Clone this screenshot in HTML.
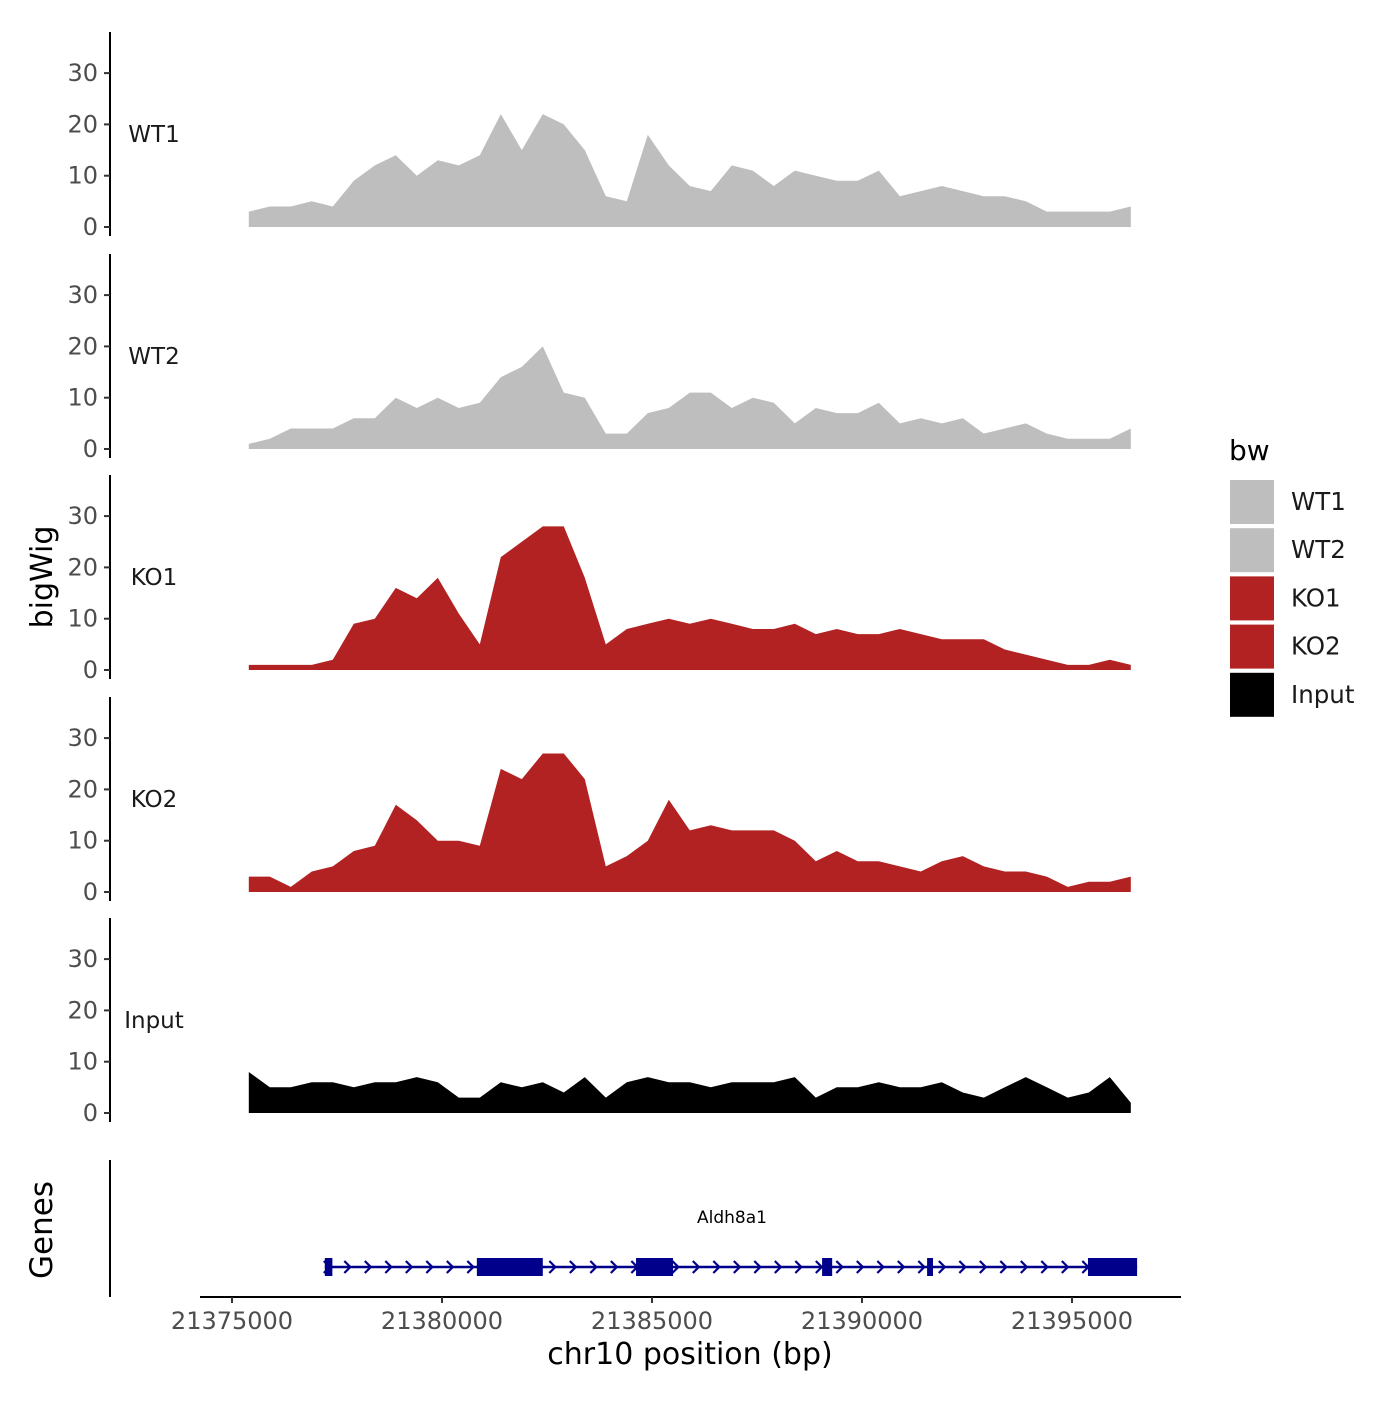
<!DOCTYPE html>
<html><head><meta charset="utf-8"><style>
body{margin:0;background:#fff}
svg{font-family:"DejaVu Sans","Liberation Sans",sans-serif}
</style></head><body>
<svg id="c" width="1400" height="1400" viewBox="0 0 1400 1400">
<rect width="1400" height="1400" fill="#fff"/>
<g id="tracks"></g>
<g id="genes"></g>
<g id="xaxis"></g>
<text x="52" y="577" font-size="30" text-anchor="middle" transform="rotate(-90 52 577)">bigWig</text>
<text x="52" y="1230" font-size="31" text-anchor="middle" transform="rotate(-90 52 1230)">Genes</text>
<text x="690" y="1364" font-size="30" text-anchor="middle">chr10 position (bp)</text>
<g id="legend"></g>
</svg>
<script>
const positions = [21375400,21375900,21376400,21376900,21377400,21377900,21378400,21378900,21379400,21379900,21380400,21380900,21381400,21381900,21382400,21382900,21383400,21383900,21384400,21384900,21385400,21385900,21386400,21386900,21387400,21387900,21388400,21388900,21389400,21389900,21390400,21390900,21391400,21391900,21392400,21392900,21393400,21393900,21394400,21394900,21395400,21395900,21396400];
const trackNames = ["WT1","WT2","KO1","KO2","Input"];
const trackColors = ["#bebebe","#bebebe","#b22222","#b22222","#000000"];
const wt1 = [3,4,4,5,4,9,12,14,10,13,12,14,22,15,22,20,15,6,5,18,12,8,7,12,11,8,11,10,9,9,11,6,7,8,7,6,6,5,3,3,3,3,4];
const wt2 = [1,2,4,4,4,6,6,10,8,10,8,9,14,16,20,11,10,3,3,7,8,11,11,8,10,9,5,8,7,7,9,5,6,5,6,3,4,5,3,2,2,2,4];
const ko1 = [1,1,1,1,2,9,10,16,14,18,11,5,22,25,28,28,18,5,8,9,10,9,10,9,8,8,9,7,8,7,7,8,7,6,6,6,4,3,2,1,1,2,1];
const ko2 = [3,3,1,4,5,8,9,17,14,10,10,9,24,22,27,27,22,5,7,10,18,12,13,12,12,12,10,6,8,6,6,5,4,6,7,5,4,4,3,1,2,2,3];
const inp = [8,5,5,6,6,5,6,6,7,6,3,3,6,5,6,4,7,3,6,7,6,6,5,6,6,6,7,3,5,5,6,5,5,6,4,3,5,7,5,3,4,7,2];
const yTicks = [0,10,20,30];
const xTicks = [21375000,21380000,21385000,21390000,21395000];
const exonStarts = [21377210,21380830,21384620,21389050,21391550,21395380];
const exonEnds   = [21377390,21382400,21385500,21389290,21391690,21396550];
const geneStart = 21377210, geneEnd = 21396550;

const NS="http://www.w3.org/2000/svg";
function el(t,a,p){const e=document.createElementNS(NS,t);for(const k in a)e.setAttribute(k,a[k]);p.appendChild(e);return e;}
const xs = bp => 232 + (bp-21375000)*0.042;
const series=[wt1,wt2,ko1,ko2,inp];
const baselines=[227,449,670,892,1113];
const tg=document.getElementById('tracks');
series.forEach((vals,ti)=>{
  const b=baselines[ti];
  const ys=v=>b - v*5.13;
  const g=el('g',{},tg);
  
  
  let d='M'+xs(positions[0]).toFixed(1)+','+b;
  vals.forEach((v,i)=>{d+=' L'+xs(positions[i]).toFixed(1)+','+ys(v).toFixed(1);});
  d+=' L'+xs(positions[positions.length-1]).toFixed(1)+','+b+' Z';
  const p=el('path',{d:d,fill:trackColors[ti]},g);
  
  
  const ax=el('line',{x1:110,x2:110,y1:b-195,y2:b+9,stroke:'#000','stroke-width':2},g);
  
  
  yTicks.forEach(t=>{
    const y=ys(t);
    const tl=el('line',{x1:104,x2:110,y1:y,y2:y,stroke:'#333','stroke-width':2},g);
    
    
    const tx=el('text',{x:98,y:y+8,'font-size':24,fill:'#4d4d4d','text-anchor':'end'},g);
    tx.textContent=t;
    
    
  });
  const lab=el('text',{x:154,y:b-85,'font-size':23,fill:'#1a1a1a','text-anchor':'middle'},g);
  lab.textContent=trackNames[ti];
  
  
});
// genes
const gg=document.getElementById('genes');
el('line',{x1:110,x2:110,y1:1160,y2:1297,stroke:'#000','stroke-width':2},gg);
const gl=el('line',{x1:xs(geneStart),x2:xs(geneEnd),y1:1267,y2:1267,stroke:'#00008b','stroke-width':2.5},gg);


for(let x=xs(geneStart)+2;x<xs(geneEnd)-5;x+=20.5){
  const c=el('path',{d:`M${x-3},1261 L${x+3},1267 L${x-3},1273`,fill:'none',stroke:'#00008b','stroke-width':2.2},gg);
  
  
}
exonStarts.forEach((s,i)=>{
  const r=el('rect',{x:xs(s),y:1258,width:xs(exonEnds[i])-xs(s),height:18,fill:'#00008b'},gg);
  
  
});
const gt=el('text',{x:732,y:1223,'font-size':17,'text-anchor':'middle',fill:'#000'},gg);
gt.textContent='Aldh8a1';


// x axis
const xg=document.getElementById('xaxis');
el('line',{x1:200,x2:1181,y1:1297,y2:1297,stroke:'#000','stroke-width':2},xg);
xTicks.forEach(t=>{
  const x=xs(t);
  const l=el('line',{x1:x,x2:x,y1:1297,y2:1303,stroke:'#333','stroke-width':2},xg);
  
  
  const tx=el('text',{x:x,y:1329,'font-size':24,fill:'#4d4d4d','text-anchor':'middle'},xg);
  tx.textContent=t;
  
  
});
// legend
const lg=document.getElementById('legend');
const lt=el('text',{x:1229,y:460,'font-size':28},lg);
lt.textContent='bw';


trackNames.forEach((n,i)=>{
  const y=480+i*48.2;
  const k=el('rect',{x:1230,y:y,width:44,height:44,fill:trackColors[i]},lg);
  
  
  const t=el('text',{x:1291,y:y+30,'font-size':24.5,fill:'#1a1a1a'},lg);
  t.textContent=n;
  
  
});
</script>
</body></html>
